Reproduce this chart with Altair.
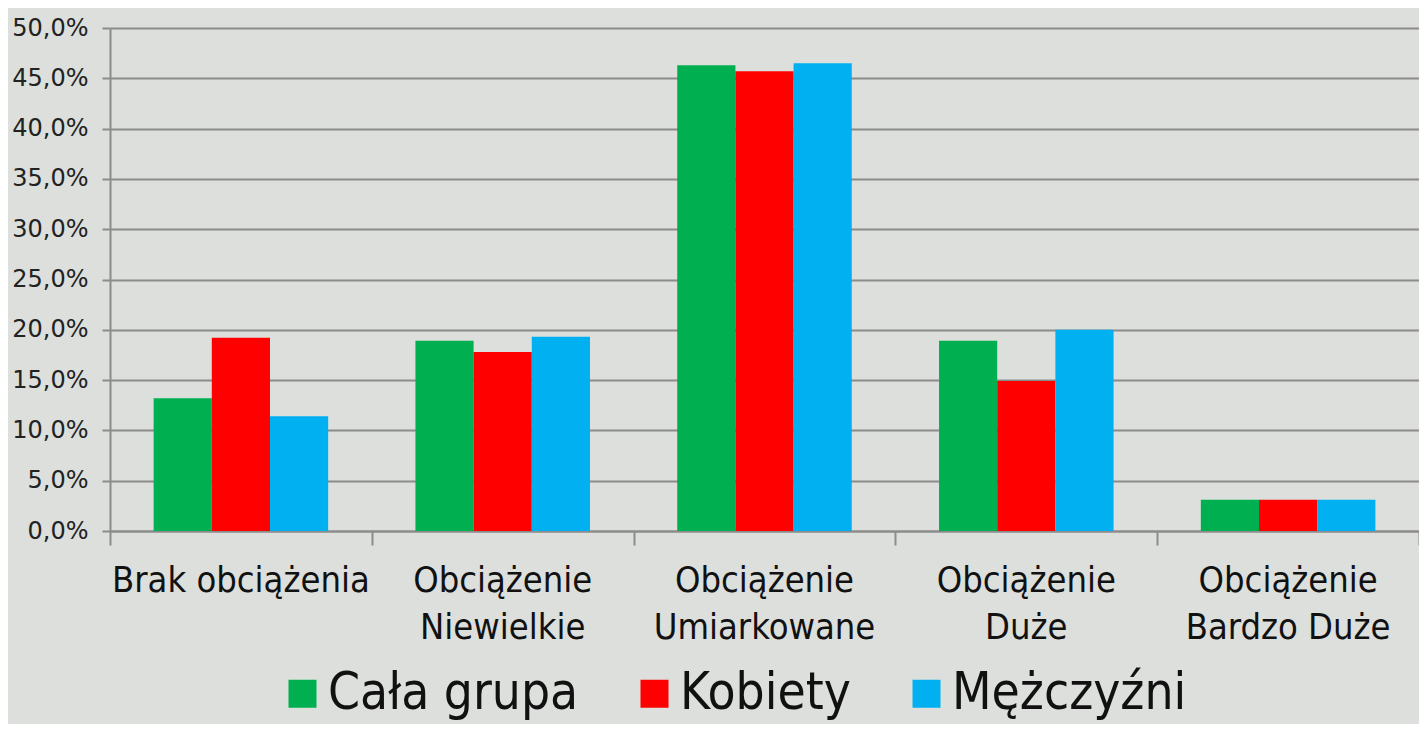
import altair as alt
import pandas as pd

categories = ["Brak obciążenia", "Obciążenie Niewielkie", "Obciążenie Umiarkowane",
              "Obciążenie Duże", "Obciążenie Bardzo Duże"]
category_labels = ["Brak obciążenia", "Obciążenie\nNiewielkie", "Obciążenie\nUmiarkowane",
                   "Obciążenie\nDuże", "Obciążenie\nBardzo Duże"]
series = ["Cała grupa", "Kobiety", "Mężczyźni"]
cala_grupa = [13.2, 18.9, 46.3, 18.9, 3.1]
kobiety = [19.2, 17.8, 45.7, 14.9, 3.1]
mezczyzni = [11.4, 19.3, 46.5, 20.0, 3.1]
colors = ["#00b050", "#ff0000", "#00b0f0"]
y_ticks = [0, 5, 10, 15, 20, 25, 30, 35, 40, 45, 50]

rows = []
for name, vals in zip(series, [cala_grupa, kobiety, mezczyzni]):
    for c, v in zip(categories, vals):
        rows.append({"kat": c, "seria": name, "val": v})
df = pd.DataFrame(rows)
df_lab = pd.DataFrame({"kat": categories, "label": category_labels})

grid_col = "#8c8c8c"
font = "DejaVu Sans"
cond = "DejaVu Sans Condensed, DejaVu Sans"

x_enc = alt.X("kat:N", sort=categories,
              scale=alt.Scale(paddingInner=0, paddingOuter=0),
              axis=alt.Axis(title=None, labels=False, tickBand="extent", grid=False,
                            domainColor=grid_col, domainWidth=2, tickColor=grid_col,
                            tickWidth=2, tickSize=14))

bars = alt.Chart(df).mark_bar().encode(
    x=x_enc,
    xOffset=alt.XOffset("seria:N", sort=series,
                        scale=alt.Scale(paddingInner=0, paddingOuter=0.75)),
    y=alt.Y("val:Q", scale=alt.Scale(domain=[0, 50], nice=False),
            axis=alt.Axis(title=None, values=y_ticks, grid=True, gridColor=grid_col,
                          gridWidth=2, gridOpacity=1, domainColor=grid_col, domainWidth=2,
                          tickColor=grid_col, tickWidth=2, tickSize=8, labelPadding=14,
                          labelFont=font, labelFontSize=24, labelColor="#222222",
                          labelExpr="replace(format(datum.value, '.1f'), '.', ',') + '%'")),
    color=alt.Color("seria:N", sort=series,
                    scale=alt.Scale(domain=series, range=colors),
                    legend=alt.Legend(title=None, orient="none", direction="horizontal",
                                      legendX=167, legendY=640, symbolType="square",
                                      symbolSize=784, symbolStrokeWidth=0, symbolOpacity=1,
                                      labelFont=cond, labelFontSize=51,
                                      labelColor="#111111", labelOffset=0,
                                      columnPadding=50, labelLimit=400)),
)

labels = alt.Chart(df_lab).mark_text(
    lineBreak="\n", baseline="top", align="center", font=cond, fontSize=36,
    lineHeight=47, color="#111111"
).encode(
    x=alt.X("kat:N", sort=categories),
    y=alt.value(536),
    text="label:N",
)

chart = alt.layer(bars, labels).properties(
    width=1309, height=503,
    autosize=alt.AutoSizeParams(type="none"),
    padding={"left": 102, "top": 20, "right": 0, "bottom": 193},
    background="#dcdfdb",
).configure_view(stroke=None)

chart.save("out.html", embed_options={"renderer": "svg", "actions": False})
